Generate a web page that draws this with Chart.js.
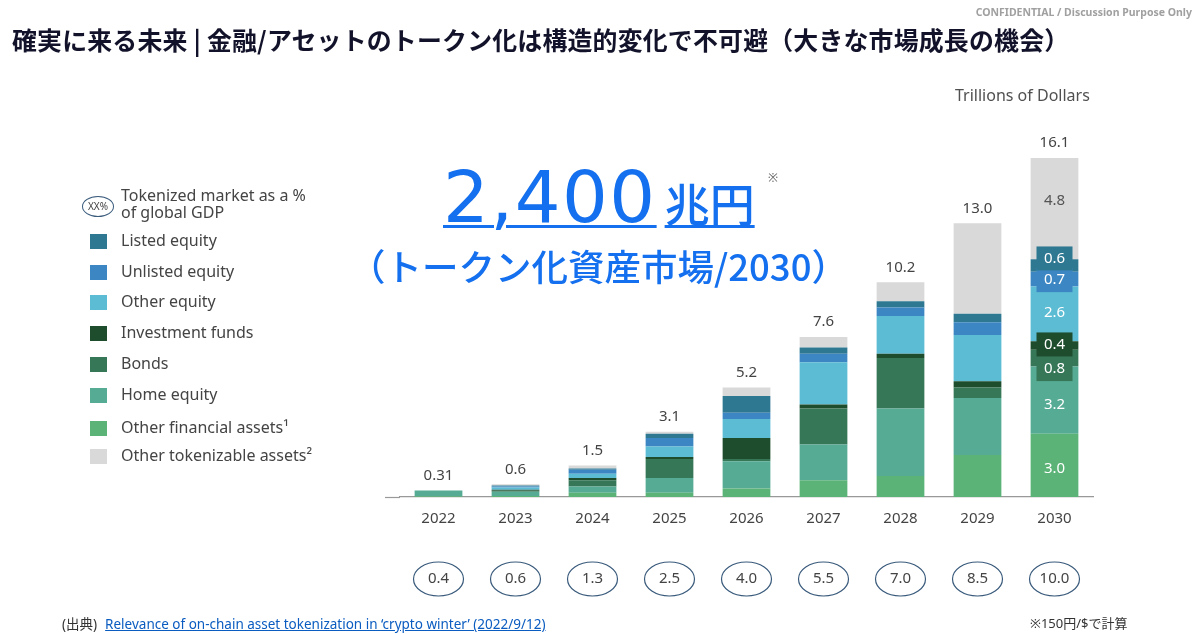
<!DOCTYPE html>
<html lang="ja">
<head>
<meta charset="utf-8">
<script src="https://cdn.jsdelivr.net/npm/chart.js@4.4.1/dist/chart.umd.min.js"></script>
<style>
  body { margin: 0; width: 1200px; height: 634px; background: #fff; position: relative; overflow: hidden;
         font-family: "Noto Sans", "Noto Sans CJK JP", sans-serif; }
  #chart { position: absolute; left: 0; top: 0; }
  .abs { position: absolute; white-space: nowrap; }
  #title { left: 12px; top: 21px; font-family: "Noto Sans CJK JP", sans-serif; font-weight: 700;
           font-size: 24.9px; color: #12122a; letter-spacing: 0.2px; }
  #conf { right: 8px; top: 5px; font-size: 10.5px; font-weight: 700; color: #a0a0a0; }
  #unit { left: 955px; top: 84px; font-size: 16px; color: #505050; }
  #big { left: 443px; top: 152px; color: #1470ee; font-family: "DejaVu Sans", "Noto Sans CJK JP", sans-serif;
         font-size: 72px; letter-spacing: 1.5px; line-height: 90px;
         text-decoration: underline; text-decoration-thickness: 3px; text-underline-offset: 3px; }
  #big span { font-family: "Noto Sans CJK JP", sans-serif; font-size: 45px; font-weight: 500; letter-spacing: 0;
              margin-left: 8px; }
  #mark { left: 768px; top: 169px; font-size: 12px; color: #666; }
  #sub { left: 349px; top: 239px; color: #1470ee; font-family: "Noto Sans CJK JP", sans-serif;
         font-size: 36.5px; font-weight: 500; }
  .lg { position: absolute; left: 90px; width: 17px; height: 15px; }
  .lt { position: absolute; left: 121px; font-size: 16px; color: #444; line-height: 20px; }
  #gdpkey { left: 82px; top: 196px; width: 30px; height: 19px; border: 1.3px solid #3a5b7c; border-radius: 50%;
            font-size: 10px; color: #444; text-align: center; line-height: 19px; }
  #gdptext { left: 121px; top: 187px; font-size: 16px; color: #444; line-height: 17px; }
  #src { left: 62px; top: 613px; font-size: 13.5px; color: #333; }
  #src a { color: #0b5cc0; margin-left: 8px; }
  #rate { left: 1030px; top: 613px; font-size: 13px; color: #333; }
</style>
</head>
<body>
<canvas id="chart" width="1200" height="634"></canvas>
<div id="title" class="abs">確実に来る未来 | 金融/アセットのトークン化は構造的変化で不可避（大きな市場成長の機会）</div>
<div id="conf" class="abs">CONFIDENTIAL / Discussion Purpose Only</div>
<div id="unit" class="abs">Trillions of Dollars</div>
<div id="big" class="abs">2,400<span>兆円</span></div>
<div id="mark" class="abs">※</div>
<div id="sub" class="abs">（トークン化資産市場/2030）</div>
<div id="gdpkey" class="abs">XX%</div>
<div id="gdptext" class="abs">Tokenized market as a %<br>of global GDP</div>
<div id="legend" class="abs"></div>
<div id="src" class="abs">(出典)<a href="#">Relevance of on-chain asset tokenization in ‘crypto winter’ (2022/9/12)</a></div>
<div id="rate" class="abs">※150円/$で計算</div>
<script>
// categories
const years = ['2022', '2023', '2024', '2025', '2026', '2027', '2028', '2029', '2030'];

// stacked series, bottom to top (trillions of dollars)
const otherFinancial   = [0.03, 0.05, 0.2, 0.2, 0.4, 0.8, 1.0, 2.0, 3.0];
const homeEquity       = [0.28, 0.2, 0.3, 0.7, 1.3, 1.7, 3.2, 2.7, 3.2];
const bonds            = [0, 0.05, 0.3, 0.9, 0.1, 1.7, 2.4, 0.5, 0.8];
const investmentFunds  = [0, 0.05, 0.1, 0.1, 1.0, 0.2, 0.2, 0.3, 0.4];
const otherEquity      = [0, 0.1, 0.2, 0.5, 0.9, 2.0, 1.8, 2.2, 2.6];
const unlistedEquity   = [0, 0.05, 0.2, 0.4, 0.3, 0.4, 0.4, 0.6, 0.7];
const listedEquity     = [0, 0.05, 0.05, 0.2, 0.8, 0.3, 0.3, 0.4, 0.6];
const otherTokenizable = [0, 0.05, 0.15, 0.1, 0.4, 0.5, 0.9, 4.3, 4.8];

// labels on top of bars
const totalLabels = ['0.31', '0.6', '1.5', '3.1', '5.2', '7.6', '10.2', '13.0', '16.1'];
// tokenized market as % of global GDP
const gdpShare = [0.4, 0.6, 1.3, 2.5, 4.0, 5.5, 7.0, 8.5, 10.0];

const series = [
    { label: 'Other financial assets¹', data: otherFinancial, color: '#5bb377', shift: 3 },
    { label: 'Home equity', data: homeEquity, color: '#55ab93', shift: 5 },
    { label: 'Bonds', data: bonds, color: '#367758', shift: 11 },
    { label: 'Investment funds', data: investmentFunds, color: '#1e4d2d', shift: -1 },
    { label: 'Other equity', data: otherEquity, color: '#5bbcd3', shift: -1 },
    { label: 'Unlisted equity', data: unlistedEquity, color: '#3c87c3', shift: 1 },
    { label: 'Listed equity', data: listedEquity, color: '#2f7892', shift: -7 },
    { label: 'Other tokenizable assets²', data: otherTokenizable, color: '#d9d9d9', shift: 0 }
];

// Legend: equities first, other tokenizable last
const legendOrder = [6, 5, 4, 3, 2, 1, 0, 7];
const legendY = [241, 272, 302, 333, 364, 395, 428, 456];
const legend = document.getElementById('legend');
legendOrder.forEach((k, i) => {
    const s = series[k];
    const sq = document.createElement('div');
    sq.className = 'lg';
    sq.style.top = (legendY[i] - 7.5) + 'px';
    sq.style.background = s.color;
    const t = document.createElement('div');
    t.className = 'lt';
    t.style.top = (legendY[i] - 11) + 'px';
    t.textContent = s.label;
    legend.appendChild(sq);
    legend.appendChild(t);
});

// Totals, 2030 breakdown and GDP ellipses
const barLabels = {
    id: 'barLabels',
    afterDatasetsDraw(chart) {
        const ctx = chart.ctx;
        const xs = chart.scales.x, ys = chart.scales.y;
        ctx.save();
        ctx.textAlign = 'center';
        ctx.textBaseline = 'middle';
        ctx.font = '15px "Noto Sans"';
        years.forEach((yr, i) => {
            const sum = series.reduce((a, s) => a + s.data[i], 0);
            const px = xs.getPixelForValue(i);
            ctx.fillStyle = '#444';
            ctx.fillText(totalLabels[i], px, ys.getPixelForValue(sum) - 15);

            const ey = chart.chartArea.bottom + 82;
            ctx.beginPath();
            ctx.ellipse(px, ey, 25, 17, 0, 0, Math.PI * 2);
            ctx.strokeStyle = '#3a5b7c';
            ctx.lineWidth = 1.2;
            ctx.stroke();
            ctx.fillStyle = '#444';
            ctx.fillText(gdpShare[i].toFixed(1), px, ey);
        });

        const last = years.length - 1;
        series.forEach((s, k) => {
            const bar = chart.getDatasetMeta(k).data[last];
            const h = bar.base - bar.y;
            const cy = (bar.y + bar.base) / 2 + s.shift;
            if (h < 24) {
                ctx.fillStyle = s.color;
                ctx.fillRect(bar.x - 18, cy - 12, 36, 24);
            }
            ctx.fillStyle = k === series.length - 1 ? '#555' : '#fff';
            ctx.fillText(s.data[last].toFixed(1), bar.x, k === series.length - 1 ? bar.y + 43 : cy);
        });

        // baseline runs a little past the first category
        ctx.strokeStyle = '#999';
        ctx.lineWidth = 1.2;
        ctx.beginPath();
        ctx.moveTo(chart.chartArea.left - 15, chart.chartArea.bottom + 0.5);
        ctx.lineTo(chart.chartArea.left, chart.chartArea.bottom + 0.5);
        ctx.stroke();
        ctx.restore();
    }
};

new Chart(document.getElementById('chart'), {
    type: 'bar',
    data: {
        labels: years,
        datasets: series.map(s => ({
            label: s.label,
            data: s.data,
            backgroundColor: s.color,
            borderWidth: 0,
            barPercentage: 0.62,
            categoryPercentage: 1
        }))
    },
    options: {
        responsive: false,
        animation: false,
        layout: { padding: { left: 400, right: 107, top: 76, bottom: 0 } },
        plugins: { legend: { display: false }, tooltip: { enabled: false } },
        scales: {
            x: {
                stacked: true,
                grid: { display: false, drawTicks: false },
                border: { display: true, color: '#999', width: 1.2 },
                ticks: { color: '#444', font: { family: 'Noto Sans', size: 15 }, padding: 13 },
                afterFit: s => { s.height = 137; }
            },
            y: {
                stacked: true,
                display: false,
                min: 0,
                max: 20
            }
        }
    },
    plugins: [barLabels]
});
</script>
</body>
</html>
